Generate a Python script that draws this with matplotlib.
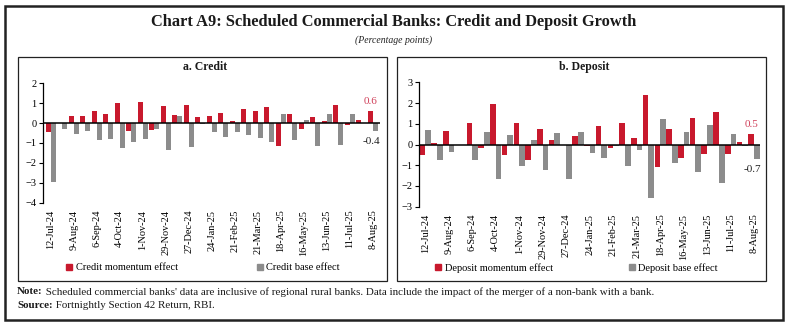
import matplotlib
matplotlib.use("Agg")
import matplotlib.pyplot as plt
from matplotlib.patches import Rectangle, Patch
import numpy as np

plt.rcParams['font.family'] = ['Liberation Serif', 'DejaVu Serif']

dates = ["12-Jul-24", "26-Jul-24", "9-Aug-24", "23-Aug-24", "6-Sep-24", "20-Sep-24",
         "4-Oct-24", "18-Oct-24", "1-Nov-24", "15-Nov-24", "29-Nov-24", "13-Dec-24",
         "27-Dec-24", "10-Jan-25", "24-Jan-25", "7-Feb-25", "21-Feb-25", "7-Mar-25",
         "21-Mar-25", "4-Apr-25", "18-Apr-25", "2-May-25", "16-May-25", "30-May-25",
         "13-Jun-25", "27-Jun-25", "11-Jul-25", "25-Jul-25", "8-Aug-25"]

credit_momentum = [-0.45, 0.0, 0.38, 0.35, 0.6, 0.45, 1.0, -0.38, 1.05, -0.33,
                   0.85, 0.43, 0.9, 0.3, 0.37, 0.5, 0.13, 0.73, 0.63, 0.82,
                   -1.17, 0.48, -0.32, 0.3, 0.13, 0.92, -0.1, 0.15, 0.6]
credit_base = [-2.95, -0.32, -0.55, -0.4, -0.85, -0.8, -1.27, -0.93, -0.8, -0.3,
               -1.37, 0.35, -1.2, -0.03, -0.47, -0.68, -0.45, -0.62, -0.75, -0.95,
               0.45, -0.87, 0.17, -1.17, 0.48, -1.1, 0.45, 0.0, -0.4]

deposit_momentum = [-0.52, 0.06, 0.63, 0.0, 1.06, -0.19, 1.93, -0.52, 1.02, -0.77,
                    0.74, 0.23, 0.0, 0.4, -0.08, 0.89, -0.18, 1.02, 0.32, 2.39,
                    -1.1, 0.76, -0.63, 1.26, -0.45, 1.56, -0.44, 0.1, 0.5]
deposit_base = [0.68, -0.77, -0.34, 0.0, -0.74, 0.6, -1.68, 0.45, -1.02, 0.24,
                -1.24, 0.56, -1.66, 0.61, -0.42, -0.66, -0.05, -1.06, -0.26, -2.6,
                1.21, -0.9, 0.58, -1.31, 0.92, -1.87, 0.52, -0.06, -0.7]

RED = "#C8192D"
GRAY = "#8C8C8C"
W, H = 787, 327

fig = plt.figure(figsize=(W / 100, H / 100), dpi=100)


def box(x0, y0, x1, y1):
    return [x0 / W, 1 - y1 / H, (x1 - x0) / W, (y1 - y0) / H]


# outer border and panels
fig.patches.append(Rectangle((5 / W, 1 - 320 / H), 778 / W, 314 / H, transform=fig.transFigure,
                             fill=False, ec="#222222", lw=1.8))
for (x0, x1) in [(18, 387), (397, 766)]:
    fig.patches.append(Rectangle((x0 / W, 1 - 281 / H), (x1 - x0) / W, 224 / H,
                                 transform=fig.transFigure, fill=False, ec="#222222", lw=0.9))

fig.text(0.5, 1 - 22 / H, "Chart A9: Scheduled Commercial Banks: Credit and Deposit Growth",
         ha="center", va="center", fontsize=11.8, fontweight="bold", color="#1a1a1a")
fig.text(0.5, 1 - 40 / H, "(Percentage points)", ha="center", va="center",
         fontsize=7, style="italic", color="#222222")

x = np.arange(len(dates))
labels = [d if i % 2 == 0 else "" for i, d in enumerate(dates)]


def panel(rect, title, title_x, mom, base, ylim, bw, xpad, names, lab_m, lab_b, leg_pos, colsp):
    ax = fig.add_axes(rect)
    ax.bar(x - bw / 2, mom, width=bw, color=RED, label=names[0], zorder=2)
    ax.bar(x + bw / 2, base, width=bw, color=GRAY, label=names[1], zorder=2)
    ax.axhline(0, color="black", lw=1.1, zorder=3)
    ax.set_ylim(*ylim)
    ax.set_yticks(np.arange(ylim[0], ylim[1] + 1, 1))
    ax.set_xlim(-xpad, len(dates) - 1 + xpad)
    ax.set_xticks(x)
    ax.set_xticklabels(labels, rotation=90, fontsize=7.4)
    ax.tick_params(axis="x", length=0, pad=5)
    ax.tick_params(axis="y", length=3, width=0.8, labelsize=7.5, pad=2)
    for s in ["top", "right", "bottom"]:
        ax.spines[s].set_visible(False)
    ax.spines["left"].set_linewidth(0.9)
    ax.patch.set_alpha(0)
    fig.text(title_x / W, 1 - 67 / H, title, ha="center", va="center",
             fontsize=8.5, fontweight="bold", color="#1a1a1a")
    last = len(dates) - 1
    ax.annotate(lab_m, (last - bw / 2, mom[-1]), xytext=(0, 4), textcoords="offset points",
                ha="center", va="bottom", fontsize=8, color="#D0405A")
    ax.annotate(lab_b, (last + bw / 2, base[-1]), xytext=(-3, -4), textcoords="offset points",
                ha="center", va="top", fontsize=8, color="#222222")
    fig.legend(handles=[Patch(color=RED), Patch(color=GRAY)], labels=names,
               loc="center left", bbox_to_anchor=leg_pos, ncol=2, frameon=False,
               fontsize=7.5, handlelength=0.6, handleheight=0.6, handletextpad=0.3,
               columnspacing=colsp, borderaxespad=0)
    return ax


panel(box(43.3, 83.3, 380, 202.7), "a. Credit", 205, credit_momentum, credit_base,
      (-4, 2), 0.44, 0.64, ["Credit momentum effect", "Credit base effect"], "0.6", "-0.4",
      (62 / W, 1 - 268 / H), 7.6)
panel(box(419.3, 82.3, 760, 206.7), "b. Deposit", 584, deposit_momentum, deposit_base,
      (-3, 3), 0.48, 0.5, ["Deposit momentum effect", "Deposit base effect"], "0.5", "-0.7",
      (431 / W, 1 - 268 / H), 7.3)

# notes
fig.canvas.draw()
r = fig.canvas.get_renderer()
for y, bold, rest in [(292, "Note:", " Scheduled commercial banks' data are inclusive of regional rural banks. Data include the impact of the merger of a non-bank with a bank."),
                      (305, "Source:", " Fortnightly Section 42 Return, RBI.")]:
    t = fig.text(17 / W, 1 - y / H, bold, ha="left", va="center", fontsize=7.9,
                 fontweight="bold", color="#1a1a1a")
    bb = t.get_window_extent(renderer=r)
    fig.text(bb.x1 / W, 1 - y / H, rest, ha="left", va="center", fontsize=7.9, color="#1a1a1a")

fig.savefig("out.png", dpi=100)
